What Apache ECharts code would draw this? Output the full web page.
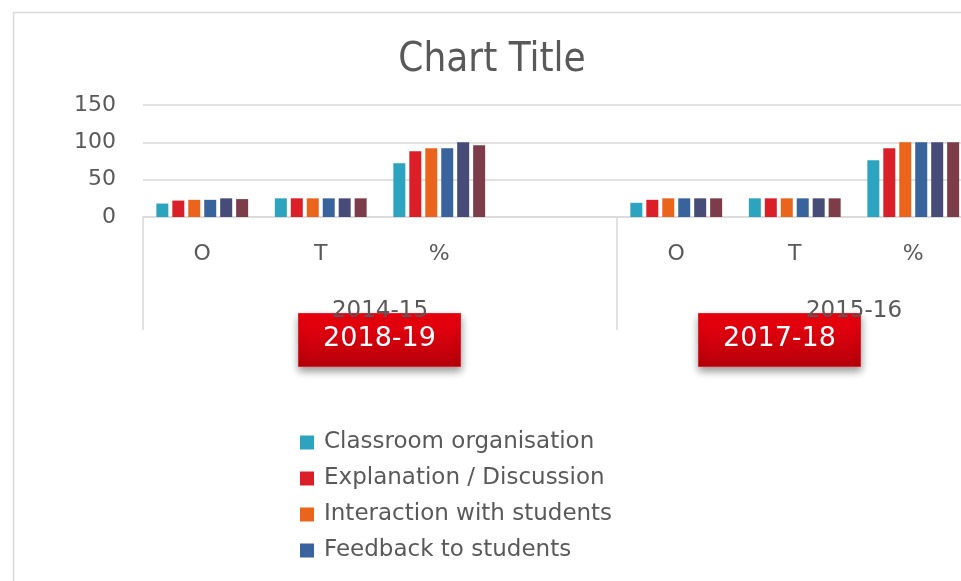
<!DOCTYPE html>
<html>
<head>
<meta charset="utf-8">
<script src="https://cdn.jsdelivr.net/npm/echarts@6/dist/echarts.min.js"></script>
<style>
  html, body { margin: 0; padding: 0; background: #fff; }
  #main { width: 961px; height: 581px; }
</style>
</head>
<body>
<div id="main"></div>
<script>
// categories on the two-level x axis
var subCats = ['O', 'T', '%', ''];
var groups = ['2014-15', '2015-16'];

var seriesNames = [
  'Classroom organisation',
  'Explanation / Discussion',
  'Interaction with students',
  'Feedback to students',
  'Questioning',
  'Overall'
];
var colors = ['#2CA3BF', '#DA1F28', '#EB641B', '#39639D', '#474B78', '#7D3C4A'];

// values per series (one entry per series)
var obs2014 = [18, 22, 23, 23, 25, 24];
var tot2014 = [25, 25, 25, 25, 25, 25];
var pct2014 = [72, 88, 92, 92, 100, 96];
var obs2015 = [19, 23, 25, 25, 25, 25];
var tot2015 = [25, 25, 25, 25, 25, 25];
var pct2015 = [76, 92, 100, 100, 100, 100];

// overlay tags
var tags = ['2018-19', '2017-18'];

(function () {
  var chart = echarts.init(document.getElementById('main'));
  var font = 'DejaVu Sans';
  var grey = '#595959';
  var lineGrey = '#d9d9d9';

  var cats = [];
  groups.forEach(function () { cats = cats.concat(subCats); });

  var series = seriesNames.map(function (name, i) {
    return {
      name: name,
      type: 'bar',
      xAxisIndex: 0,
      barWidth: 12,
      barGap: '33%',
      itemStyle: { color: colors[i] },
      data: [obs2014[i], tot2014[i], pct2014[i], '-',
             obs2015[i], tot2015[i], pct2015[i], '-']
    };
  });

  function tag(x, text) {
    return {
      type: 'group',
      left: x,
      top: 313,
      children: [
        {
          type: 'rect',
          shape: { x: 0, y: 0, width: 162, height: 53 },
          style: {
            fill: new echarts.graphic.LinearGradient(0, 0, 0, 1, [
              { offset: 0, color: '#f2000f' },
              { offset: 1, color: '#b5000a' }
            ]),
            stroke: '#d8242c',
            lineWidth: 1,
            shadowBlur: 8,
            shadowOffsetY: 4,
            shadowColor: 'rgba(0,0,0,0.4)'
          }
        },
        {
          type: 'text',
          x: 81,
          y: 25,
          style: {
            text: text,
            fill: '#fff',
            font: '27px "DejaVu Sans"',
            align: 'center',
            verticalAlign: 'middle'
          }
        }
      ]
    };
  }

  var option = {
    animation: false,
    color: colors,
    textStyle: { fontFamily: font },
    title: {
      text: 'Chart Title',
      left: 487,
      top: 36,
      textAlign: 'center',
      textStyle: {
        fontFamily: '"Liberation Sans Narrow", "DejaVu Sans Condensed", sans-serif',
        fontSize: 40,
        fontWeight: 'normal',
        color: grey
      }
    },
    legend: {
      orient: 'vertical',
      left: 295,
      top: 426,
      height: 500,
      itemWidth: 14,
      itemHeight: 14,
      itemGap: 13,
      icon: 'rect',
      textStyle: { fontSize: 23, color: grey, padding: [0, 0, 0, 5] },
      // the rest of the legend falls below the visible area
      data: seriesNames.slice(0, 4)
    },
    grid: {
      left: 143,
      top: 105,
      width: 948,
      height: 112,
      outerBoundsMode: 'none'
    },
    xAxis: [
      {
        type: 'category',
        data: cats,
        axisLine: { lineStyle: { color: lineGrey, width: 1.5 } },
        axisTick: { show: false },
        axisLabel: { fontSize: 22, color: grey, margin: 26, interval: 0 }
      },
      {
        type: 'category',
        position: 'bottom',
        data: groups,
        axisLine: { show: false },
        axisTick: { show: true, length: 113, lineStyle: { color: lineGrey, width: 1.5 } },
        axisLabel: { fontSize: 23, color: grey, margin: 83, interval: 0 }
      }
    ],
    yAxis: {
      type: 'value',
      min: 0,
      max: 150,
      interval: 50,
      axisLine: { show: false },
      axisTick: { show: false },
      axisLabel: { fontSize: 22, color: grey, margin: 27 },
      splitLine: { lineStyle: { color: lineGrey, width: 1.5 } }
    },
    graphic: [
      {
        type: 'rect',
        left: 11,
        top: 10,
        shape: { width: 1000, height: 620 },
        style: { fill: 'none', stroke: lineGrey, lineWidth: 1.5 },
        z: -1
      },
      tag(298, tags[0]),
      tag(698, tags[1])
    ],
    series: series
  };

  chart.setOption(option);
  window.addEventListener('resize', function () { chart.resize(); });
})();
</script>
</body>
</html>
